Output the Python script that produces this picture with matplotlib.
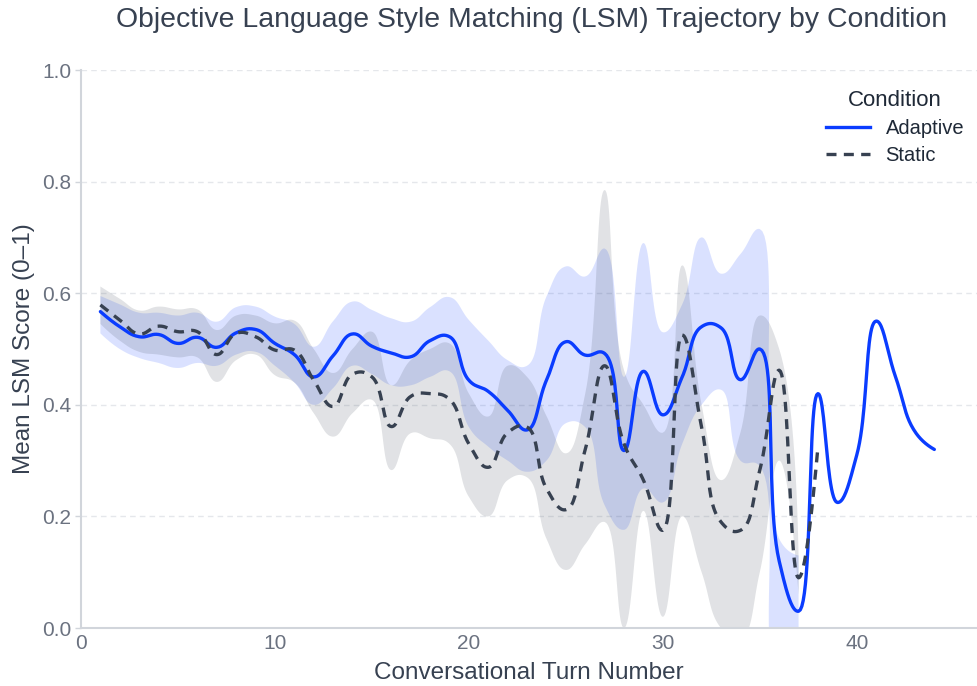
import numpy as np
import matplotlib
matplotlib.use('Agg')
import matplotlib.pyplot as plt
from matplotlib.lines import Line2D

plt.rcParams['font.family'] = ['Liberation Sans', 'DejaVu Sans']

# ---------------- data ----------------
turns_adaptive = list(range(1, 45))
turns_static = list(range(1, 39))

adaptive_mean = [0.567, 0.540, 0.522, 0.526, 0.510, 0.521, 0.503, 0.529, 0.535, 0.510,
                 0.490, 0.450, 0.488, 0.527, 0.505, 0.493, 0.486, 0.515, 0.522, 0.444,
                 0.424, 0.390, 0.355, 0.444, 0.513, 0.489, 0.492, 0.318, 0.460, 0.382,
                 0.450, 0.540, 0.538, 0.445, 0.500, 0.120, 0.030, 0.420, 0.225, 0.310,
                 0.550, 0.450, 0.352, 0.320]
adaptive_lower = [0.528, 0.500, 0.484, 0.475, 0.466, 0.475, 0.470, 0.490, 0.495, 0.470,
                  0.440, 0.400, 0.430, 0.470, 0.455, 0.435, 0.435, 0.450, 0.460, 0.360,
                  0.325, 0.300, 0.280, 0.300, 0.367, 0.360, 0.220, 0.176, 0.250, 0.225,
                  0.330, 0.400, 0.427, 0.300, 0.290, -0.100, -0.100]
adaptive_upper = [0.595, 0.580, 0.565, 0.565, 0.560, 0.565, 0.549, 0.575, 0.576, 0.558,
                  0.545, 0.504, 0.550, 0.585, 0.570, 0.555, 0.549, 0.575, 0.593, 0.552,
                  0.515, 0.480, 0.470, 0.594, 0.648, 0.630, 0.680, 0.450, 0.690, 0.530,
                  0.580, 0.700, 0.635, 0.670, 0.715, 0.160, 0.130]

static_mean = [0.579, 0.552, 0.527, 0.541, 0.531, 0.531, 0.490, 0.528, 0.522, 0.498,
               0.498, 0.444, 0.397, 0.455, 0.450, 0.361, 0.415, 0.420, 0.410, 0.330,
               0.288, 0.350, 0.360, 0.250, 0.212, 0.320, 0.470, 0.330, 0.265, 0.175,
               0.525, 0.360, 0.190, 0.175, 0.283, 0.462, 0.090, 0.325]
static_lower = [0.545, 0.515, 0.495, 0.490, 0.485, 0.485, 0.441, 0.480, 0.490, 0.453,
                0.440, 0.385, 0.343, 0.385, 0.409, 0.283, 0.349, 0.340, 0.330, 0.235,
                0.200, 0.265, 0.270, 0.160, 0.104, 0.150, 0.190, 0.000, 0.210, 0.020,
                0.200, 0.100, 0.000, -0.020, 0.100, 0.300, 0.060]
static_upper = [0.612, 0.590, 0.569, 0.576, 0.571, 0.571, 0.534, 0.560, 0.560, 0.546,
                0.551, 0.500, 0.457, 0.500, 0.531, 0.435, 0.480, 0.500, 0.510, 0.420,
                0.379, 0.470, 0.450, 0.380, 0.313, 0.420, 0.785, 0.462, 0.400, 0.350,
                0.650, 0.400, 0.265, 0.350, 0.560, 0.500, 0.130]

x_ticks = [0, 10, 20, 30, 40]
y_ticks = [0.0, 0.2, 0.4, 0.6, 0.8, 1.0]
y_tick_labels = ['0.0', '0.2', '0.4', '0.6', '0.8', '1.0']

# ---------------- layout ----------------
W, H = 977, 686
fig = plt.figure(figsize=(W / 100, H / 100), dpi=100)
L, R, T, B = 81, 977, 70, 628
ax = fig.add_axes([L / W, (H - B) / H, (R - L) / W, (B - T) / H])
XMAX = 46.2
ax.set_xlim(0, XMAX)
ax.set_ylim(0, 1)
SX = (R - L) / XMAX
SY = (B - T) / 1.0


def smooth(x, y, smoothing=1.3, n=24):
    """Plotly-style spline (centripetal Catmull-Rom -> Bezier) in pixel space."""
    pts = np.column_stack([np.asarray(x, float) * SX, np.asarray(y, float) * SY])
    m = len(pts)
    if m < 3:
        return pts[:, 0] / SX, pts[:, 1] / SY
    tans = []
    for i in range(1, m - 1):
        d1 = pts[i - 1] - pts[i]
        d2 = pts[i + 1] - pts[i]
        d1a = (d1 @ d1) ** 0.25
        d2a = (d2 @ d2) ** 0.25
        num = (d2a * d2a * d1 - d1a * d1a * d2) * smoothing
        den1 = 3 * d2a * (d1a + d2a)
        den2 = 3 * d1a * (d1a + d2a)
        tans.append((pts[i] + num / den1, pts[i] - num / den2))
    t = np.linspace(0, 1, n)[:, None]
    out = []
    p0, c, p1 = pts[0], tans[0][0], pts[1]
    out.append((1 - t) ** 2 * p0 + 2 * (1 - t) * t * c + t ** 2 * p1)
    for i in range(2, m - 1):
        p0, c1, c2, p1 = pts[i - 1], tans[i - 2][1], tans[i - 1][0], pts[i]
        seg = ((1 - t) ** 3 * p0 + 3 * (1 - t) ** 2 * t * c1 +
               3 * (1 - t) * t ** 2 * c2 + t ** 3 * p1)
        out.append(seg[1:])
    p0, c, p1 = pts[m - 2], tans[m - 3][1], pts[m - 1]
    out.append(((1 - t) ** 2 * p0 + 2 * (1 - t) * t * c + t ** 2 * p1)[1:])
    res = np.vstack(out)
    return res[:, 0] / SX, res[:, 1] / SY


BLUE = '#0a3cff'
DARK = '#374151'


def band(turns, lo, hi, color, alpha):
    tt = turns[:len(lo)]
    xu, yu = smooth(tt, hi)
    xl, yl = smooth(tt, lo)
    ax.fill(np.r_[xu, xl[::-1]], np.r_[yu, yl[::-1]], color=color,
            alpha=alpha, lw=0, zorder=1)


band(turns_adaptive, adaptive_lower, adaptive_upper, BLUE, 0.15)
band(turns_static, static_lower, static_upper, DARK, 0.15)

xa, ya = smooth(turns_adaptive, adaptive_mean)
ax.plot(xa, ya, color=BLUE, lw=2.4, zorder=3, solid_capstyle='round')
xs, ys = smooth(turns_static, static_mean)
ax.plot(xs, ys, color=DARK, lw=2.4, zorder=4, dashes=(3.0, 2.2))

# ---------------- styling ----------------
for s in ['top', 'right']:
    ax.spines[s].set_visible(False)
for s in ['left', 'bottom']:
    ax.spines[s].set_color('#d1d5db')
    ax.spines[s].set_linewidth(1.5)

ax.set_xticks(x_ticks)
ax.set_yticks(y_ticks)
ax.set_yticklabels(y_tick_labels)
ax.tick_params(axis='both', colors='#d1d5db', labelcolor='#6b7280',
               labelsize=15, length=4, width=1, pad=3)
ax.tick_params(axis='x', length=0, pad=4)
ax.yaxis.grid(True, color='#e5e7eb', lw=1, ls=(0, (4, 3)))
ax.set_axisbelow(True)

ax.set_xlabel('Conversational Turn Number', fontsize=17.5, color=DARK, labelpad=7)
ax.set_ylabel('Mean LSM Score (0\u20131)', fontsize=17.5, color=DARK, labelpad=5)

fig.text(532 / W, 1 - 20 / H, 'Objective Language Style Matching (LSM) Trajectory by Condition',
         ha='center', va='center', fontsize=20.4, color=DARK)

handles = [Line2D([0], [0], color=BLUE, lw=2.4),
           Line2D([0], [0], color=DARK, lw=2.4, dashes=(3.0, 2.2))]
leg = ax.legend(handles, ['Adaptive', 'Static'], title='Condition',
                loc='upper left', bbox_to_anchor=(808 / W, 1 - 72 / H),
                bbox_transform=fig.transFigure, frameon=False,
                fontsize=14.5, title_fontsize=16, handlelength=2.2,
                handletextpad=0.75, labelspacing=0.4)
for txt in leg.get_texts():
    txt.set_color('#1f2937')
leg.get_title().set_color('#1f2937')

fig.savefig('out.png', dpi=100)
